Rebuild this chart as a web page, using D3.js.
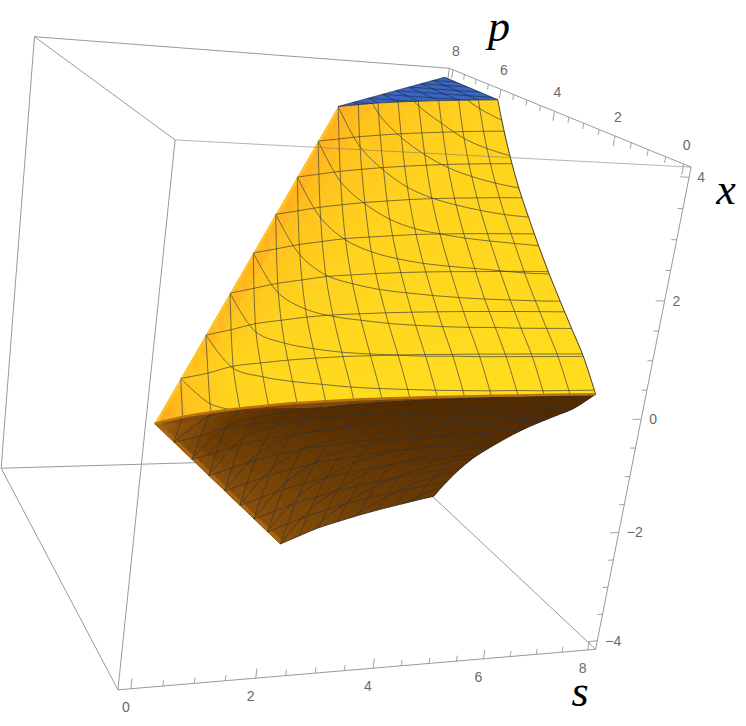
<!DOCTYPE html>
<html><head><meta charset="utf-8"><style>html,body{margin:0;background:#fff}svg{display:block}</style>
<script src="https://cdn.jsdelivr.net/npm/d3@7"></script></head><body>
<svg id="c" width="746" height="726"></svg>
<script>
// Values
const grid=[0,.5,1,1.5,2,2.5,3,3.5,4,4.5,5,5.5,6,6.5,7,7.5,8];      // s and p stops, mesh every 0.5
const ridgeP=[0,.24,.41,.54,.65,.73,.79,.84,.87,.89,.91,.92,.93,.93,.94,.94,.94]; // p of the crest (x=0) at each s
const capP=[4,4.3,4.59,4.82,5.04,5.24,5.42,5.6,5.77];                // p where |x|=4, for s=4..8
const capS=[4,4.5,5,5.5,6,6.5,7,7.5,8];
const levels=[.5,1,1.5,2,2.5,3,3.5];
const xTicks=[-4,-3.5,-3,-2.5,-2,-1.5,-1,-.5,0,.5,1,1.5,2,2.5,3,3.5,4];
const labelTicks=[0,2,4,6,8];
const xLabels=[-4,-2,0,2,4];
// |x| on the surface: one row per s, one entry per p stop from 0 to s
const xTable=[
[0],
[0,0.5],
[0,0.1,1],
[0,0,0.47,1.5],
[0,0,0.33,0.88,2],
[0,0,0.25,0.7,1.36,2.5],
[0,0,0.2,0.61,1.1,1.85,3],
[0,0,0.15,0.55,0.98,1.52,2.34,3.5],
[0,0,0.12,0.52,0.92,1.38,1.98,2.84,4],
[0,0,0.1,0.5,0.87,1.29,1.79,2.48,3.34,4.5],
[0,0,0.08,0.48,0.84,1.24,1.68,2.23,2.96,3.83,5],
[0,0,0.07,0.48,0.82,1.2,1.61,2.08,2.68,3.44,4.32,5.5],
[0,0,0.06,0.47,0.81,1.17,1.57,2,2.51,3.16,3.92,4.82,6],
[0,0,0.06,0.47,0.81,1.15,1.54,1.94,2.4,2.95,3.64,4.42,5.33,6.5],
[0,0,0.05,0.47,0.8,1.14,1.51,1.9,2.32,2.81,3.39,4.12,4.92,5.84,7],
[0,0,0.05,0.47,0.8,1.13,1.48,1.87,2.26,2.71,3.23,3.86,4.6,5.41,6.36,7.5],
[0,0,0.05,0.47,0.8,1.13,1.47,1.84,2.23,2.64,3.12,3.67,4.34,5.07,5.9,6.87,8]];

const lo=-.2,hi=8.16,xl=-4.16,xh=4.16;
const camera=[[557.983695,-116.429382,39.788677,117.948101],[47.035137,-82.003995,-563.808854,689.838375],[0.134874,0.298070,-0.099303,1]];
const sS=d3.scaleLinear([lo,hi],[0,1]),pS=sS,xS=d3.scaleLinear([xl,xh],[0,1]);
const P=(s,p,x)=>{const v=[sS(s),pS(p),xS(x),1],d=d3.sum(camera[2],(c,i)=>c*v[i]);return[d3.sum(camera[0],(c,i)=>c*v[i])/d,d3.sum(camera[1],(c,i)=>c*v[i])/d];};
const F=(s,p)=>xTable[Math.round(s*2)][Math.round(p*2)];
const ridgeS=d3.scaleLinear(ridgeP,grid);
const svg=d3.select('#c');const line=d3.line(),smooth=d3.line().curve(d3.curveCatmullRom);
const ln=(pts,c,w,g=svg,o=1,gen=line)=>g.append('path').attr('d',gen(pts)).attr('fill','none').attr('stroke',c).attr('stroke-width',w).attr('stroke-opacity',o);
const boxCol='#9a9a9a';
[[[lo,hi,xh],[hi,hi,xh]],[[lo,hi,xl],[lo,hi,xh]],[[lo,hi,xl],[hi,hi,xl]],[[hi,hi,xl],[hi,hi,xh]],[[lo,lo,xl],[lo,hi,xl]],[[lo,lo,xh],[lo,hi,xh]],[[hi,lo,xl],[hi,hi,xl]],[[hi,lo,xh],[hi,hi,xh]],[[lo,lo,xl],[hi,lo,xl]],[[lo,lo,xl],[lo,lo,xh]],[[hi,lo,xl],[hi,lo,xh]]].forEach(e=>ln(e.map(a=>P(...a)),boxCol,1));

const tris=[];grid.slice(0,-1).forEach((a,i)=>grid.slice(0,-1).forEach((b,j)=>{const c=grid[i+1],d=grid[j+1];if(i>=j)tris.push([[a,b],[c,b],[c,d]]);if(i>=j+1)tris.push([[a,b],[c,d],[a,d]]);}));
const join=(...ds)=>ds.map((d,i)=>i?d.replace(/^M/,'L'):d).join('')+'Z';
function meshLines(sgn,gm,mc,mw,mo){
 grid.slice(1).forEach((v,k)=>{
  const g=ridgeP[k+1];
  ln([P(v,g,0),...grid.filter(b=>b>g&&b<=v).map(b=>P(v,b,sgn*F(v,b)))],mc,mw,gm,mo,smooth);
  const run=grid.filter(a=>a>=v&&F(a,v)>0).map(a=>P(a,v,sgn*F(a,v)));
  if(v<ridgeP[16])run.push(P(ridgeS(v),v,0));
  if(run.length>1)ln(run,mc,mw,gm,mo,smooth);
 });
 levels.forEach(L=>{
  const pts=grid.filter(s=>s>=L).map(s=>{const r=xTable[Math.round(s*2)];const j=r.findIndex(v=>v>=L);if(r[j]==L)return P(s,grid[j],sgn*L);const u=(L-r[j-1])/(r[j]-r[j-1]);return P(s,grid[j-1]+u*.5,sgn*L);});
  ln(pts,mc,mw,gm,mo,smooth);
 });
}
function surface(id,sgn,outlinePath,base,colorOf,strips,edges,mc,mw,mo){
 svg.append('clipPath').attr('id',id).append('path').attr('d',outlinePath);
 const g=svg.append('g').attr('clip-path',`url(#${id})`);
 g.append('path').attr('d',outlinePath).attr('fill',base);
 const n=3;
 tris.forEach(t=>{const [A,B,C]=t,va=sgn*F(...A),vb=sgn*F(...B),vc=sgn*F(...C);
  const at=(i,j)=>{const k=n-i-j;return [(i*A[0]+j*B[0]+k*C[0])/n,(i*A[1]+j*B[1]+k*C[1])/n,(i*va+j*vb+k*vc)/n];};
  const sub=[];for(let i=0;i<n;i++)for(let j=0;j<n-i;j++){sub.push([at(i,j),at(i+1,j),at(i,j+1)]);if(i+j<n-1)sub.push([at(i+1,j),at(i+1,j+1),at(i,j+1)]);}
  sub.forEach(tt=>{const cx=d3.mean(tt,v=>v[0]),cy=d3.mean(tt,v=>v[1]);const c=colorOf(cy/Math.max(cx,.01),cx);g.append('path').attr('d',line(tt.map(v=>P(...v)))+'Z').attr('fill',c).attr('stroke',c).attr('stroke-width',.6);});});
 strips.forEach(([pts,c,w])=>ln(pts,c,w,g));
 meshLines(sgn,g.append('g'),mc,mw,mo);
 edges.forEach(d=>svg.append('path').attr('d',d).attr('fill','none').attr('stroke','#3a3025').attr('stroke-width',.8));
}
const ridgePts=grid.map((s,i)=>P(s,ridgeP[i],0));
const col8=grid.filter(p=>p>=1&&p<capP[8]);
const right=sgn=>[P(8,ridgeP[16],0),...col8.map(p=>P(8,p,sgn*F(8,p))),P(8,capP[8],sgn*4)];
const rightT=right(1),rightB=right(-1);
const diag=[0,.5,1,1.5,2,2.5,3,3.5,4];
const diagT=diag.map(t=>P(t,t,t)),diagB=diag.map(t=>P(t,t,-t));
const capT=capS.map((s,i)=>P(s,capP[i],4)),capB=capS.map((s,i)=>P(s,capP[i],-4));
const yel=d3.scaleLinear([0,.7,.9,1],['#ffdf1f','#ffd31f','#ffc41e','#ffae1e']);
const bro=d3.scaleLinear([0,.5,.8,1],['#4f2900','#5a3001','#6e3e06','#8a510c']);
surface('b',-1,join(line(diagB),smooth(capB),smooth(rightB.slice().reverse()),smooth(ridgePts.slice().reverse())),'#80490a',(r,s)=>bro(Math.max(r,1.15-.28*s)),[[diagB,'#a5640f',8]],[smooth(capB),smooth(rightB)],'#333333',.85,.75);
surface('t',1,join(line(diagT),smooth(capT),smooth(rightT.slice().reverse()),smooth(ridgePts.slice().reverse())),'#ffdc1f',(r,s)=>yel(Math.max(r,1.05-.25*s)),[[diagT,'#ffc42a',5]],[smooth(rightT)],'#3c3c3c',.9,.75);
svg.append('path').attr('d',smooth(ridgePts)).attr('fill','none').attr('stroke','#b8720f').attr('stroke-width',2.5);
// blue cap at x=4
const capPath=join(line([P(4,4,4),P(8,8,4),P(8,capP[8],4)]),line(capT.slice().reverse()));
svg.append('clipPath').attr('id','bl').append('path').attr('d',capPath);
const gb=svg.append('g').attr('clip-path','url(#bl)');
gb.append('path').attr('d',capPath).attr('fill','#3a66c0');
grid.filter(v=>v>=4).forEach(v=>{ln([P(v,4,4),P(v,8,4)],'#1d2c55',.8,gb,.8);ln([P(4,v,4),P(8,v,4)],'#1d2c55',.8,gb,.8);});
svg.append('path').attr('d',capPath).attr('fill','none').attr('stroke','#1d2c55').attr('stroke-width',.8);
ln([[lo,lo,xh],[hi,lo,xh]].map(a=>P(...a)),'#777',1,svg,.55);
// ticks
const tk=(a,b)=>ln([a,b],'#8a8a8a',.8);
grid.forEach((t,i)=>{const big=i%4==0,L=big?.17:.1;tk(P(t,lo,xl),P(t,lo,xl+L));tk(P(hi,t,xh),P(hi,t,xh-L));});
xTicks.forEach((t,i)=>{const big=i%4==0,L=big?.17:.1;tk(P(hi,lo,t),P(hi-L,lo,t));});
const T=(x,y,t,a='middle')=>svg.append('text').attr('x',x).attr('y',y).attr('text-anchor',a).attr('dominant-baseline','central').attr('font-family','Liberation Sans').attr('font-size',14).attr('fill','#6a6a6a').text(t);
labelTicks.forEach(t=>{const a=P(t,lo,xl);T(a[0]-5,a[1]+18,t);const b=P(hi,t,xh);T(b[0]+3,b[1]-19,t);});
xLabels.forEach(t=>{const a=P(hi,lo,t);T(a[0]+8,a[1],String(t).replace('-','\u2212'),'start');});
[['p',499,41],['x',726,204],['s',580,706]].forEach(([t,x,y])=>svg.append('text').attr('x',x).attr('y',y).attr('text-anchor','middle').attr('font-family','Liberation Serif').attr('font-style','italic').attr('font-size',44).text(t));
</script></body></html>
